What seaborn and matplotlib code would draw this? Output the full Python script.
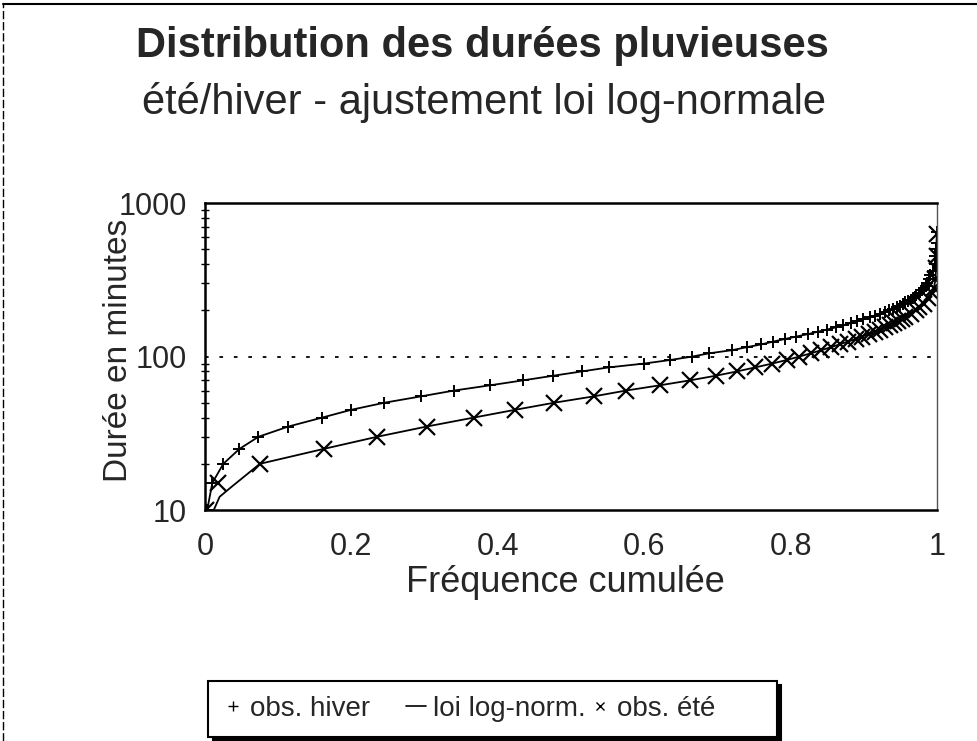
import numpy as np
import pandas as pd
import seaborn as sns
import matplotlib.pyplot as plt
from matplotlib.lines import Line2D
from matplotlib.ticker import FixedLocator, NullFormatter

# Observed durations (minutes) and their cumulative frequency - winter
hiver_duree = [10, 15, 20, 25, 30, 35, 40, 45, 50, 55, 60, 65, 70, 75, 80, 85, 90, 95,
               100, 105, 110, 115, 120, 125, 130, 135, 140, 145, 150, 155, 160, 165, 170,
               175, 180, 185, 190, 195, 200, 205, 210, 215, 220, 225, 230, 235, 240, 245,
               250, 260, 270, 280, 290, 300, 320, 340, 360, 400, 450, 500, 550, 650]
hiver_freq = [0.003, 0.010, 0.025, 0.047, 0.073, 0.114, 0.160, 0.200, 0.245, 0.295, 0.340,
              0.390, 0.435, 0.476, 0.515, 0.552, 0.600, 0.636, 0.666, 0.689, 0.720, 0.740,
              0.760, 0.776, 0.792, 0.808, 0.824, 0.837, 0.850, 0.862, 0.872, 0.882, 0.891,
              0.899, 0.908, 0.915, 0.922, 0.929, 0.935, 0.940, 0.945, 0.950, 0.953, 0.957,
              0.961, 0.964, 0.967, 0.970, 0.972, 0.975, 0.979, 0.982, 0.985, 0.987, 0.989,
              0.991, 0.994, 0.997, 0.998, 0.999, 0.9995, 1.0]

# Summer
ete_duree = [10, 15, 20, 25, 30, 35, 40, 45, 50, 55, 60, 65, 70, 75, 80, 85, 90, 95, 100,
             105, 110, 115, 120, 125, 130, 135, 140, 145, 150, 155, 160, 165, 170, 175,
             180, 190, 200, 210, 220, 240, 260, 280, 320, 380, 450, 630]
ete_freq = [0.002, 0.018, 0.075, 0.162, 0.235, 0.303, 0.367, 0.424, 0.477, 0.531, 0.575,
            0.622, 0.663, 0.698, 0.727, 0.752, 0.775, 0.795, 0.812, 0.828, 0.842, 0.855,
            0.867, 0.878, 0.889, 0.898, 0.907, 0.915, 0.922, 0.929, 0.936, 0.941, 0.947,
            0.952, 0.957, 0.964, 0.971, 0.976, 0.982, 0.988, 0.993, 0.996, 0.998, 0.999,
            0.9995, 1.0]

# Log-normal fit, start of summer curve differs from the observations
ete_fit_duree = [10, 12.2, 14, 20]
ete_fit_freq = [0.012, 0.020, 0.035, 0.075]

sns.set_style("white")
plt.rcParams['font.family'] = ['Liberation Sans', 'DejaVu Sans']

fig = plt.figure(figsize=(9.78, 7.41), dpi=100)
ax = fig.add_axes([0.2096, 0.3117, 0.7484, 0.4143])

# Fitted curves
sns.lineplot(x=hiver_freq, y=hiver_duree, color='k', lw=1.3, sort=False,
             estimator=None, ax=ax)
fit_x = ete_fit_freq + ete_freq[3:]
fit_y = ete_fit_duree + ete_duree[3:]
sns.lineplot(x=fit_x, y=fit_y, color='k', lw=1.3, sort=False, estimator=None, ax=ax)

# Observations
ax.plot(hiver_freq, hiver_duree, ls='none', marker='+', ms=9, mew=1.4, color='k')
ax.plot(ete_freq, ete_duree, ls='none', marker='x', ms=11, mew=1.6, color='k')

ax.set_yscale('log')
ax.set_xlim(0, 1)
ax.set_ylim(10, 1000)

ax.set_xticks(np.arange(0, 1.01, 0.1))
ax.set_xticklabels(['0', '', '0.2', '', '0.4', '', '0.6', '', '0.8', '', '1'])
ax.yaxis.set_major_locator(FixedLocator([10, 100, 1000]))
ax.set_yticklabels(['10', '100', '1000'])
minor = [m * d for d in (10, 100) for m in range(2, 10)]
ax.yaxis.set_minor_locator(FixedLocator(minor))
ax.yaxis.set_minor_formatter(NullFormatter())

ax.tick_params(axis='both', which='major', direction='inout', length=8, width=1,
               labelsize=22, color='k')
ax.tick_params(axis='x', which='major', pad=12)
ax.tick_params(axis='y', which='major', pad=9)
ax.tick_params(axis='y', which='minor', direction='inout', length=6, width=1, color='k', left=True)

ax.axhline(100, color='k', ls=(0, (2, 6)), lw=1.3)

for side in ['left', 'bottom', 'top']:
    ax.spines[side].set_color('k')
    ax.spines[side].set_linewidth(1.8)
ax.spines['right'].set_color('#555555')
ax.spines['right'].set_linewidth(1)

ax.set_xlabel('Fréquence cumulée', fontsize=26)
ax.set_ylabel('Durée en minutes', fontsize=24)
ax.xaxis.set_label_coords(0.493, -0.18)
ax.yaxis.set_label_coords(-0.097, 0.52)

fig.text(0.493, 0.938, 'Distribution des durées pluvieuses', ha='center', va='center',
         fontsize=30, fontweight='bold')
fig.text(0.495, 0.862, 'été/hiver - ajustement loi log-normale', ha='center', va='center',
         fontsize=30)

handles = [Line2D([], [], ls='none', marker='+', ms=7, mew=1, color='k'),
           Line2D([], [], color='k', lw=1.2),
           Line2D([], [], ls='none', marker='x', ms=6, mew=1, color='k')]
labels = ['obs. hiver    ', 'loi log-norm.', 'obs. été      ']
leg = fig.legend(handles, labels, loc='center', bbox_to_anchor=(0.5036, 0.0432), ncol=3,
                 fontsize=20, frameon=True, fancybox=False, handlelength=0.7,
                 handletextpad=0.25, columnspacing=0.18, borderpad=0.55,
                 shadow={'color': 'k', 'alpha': 1, 'ox': 3, 'oy': -3})
leg.get_frame().set_edgecolor('k')
leg.get_frame().set_linewidth(1.5)

# page border on top and left
fig.add_artist(Line2D([0.003, 1.0], [0.994, 0.994], transform=fig.transFigure, color='k', lw=1.5))
fig.add_artist(Line2D([0.003, 0.003], [0.0, 0.994], transform=fig.transFigure, color='k', lw=1,
                      ls=(0, (6, 2))))

fig.savefig('out.png', dpi=100)
